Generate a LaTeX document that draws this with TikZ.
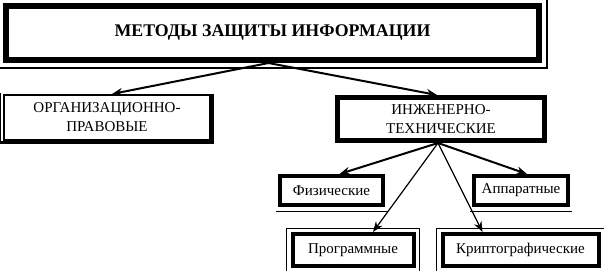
\documentclass[tikz,border=0pt]{standalone}
\usepackage{fontspec}
\setmainfont{Liberation Serif}
\usetikzlibrary{arrows.meta}

\begin{document}
\begin{tikzpicture}[x=1pt, y=-1pt, >={Stealth[length=10.5pt,width=8pt]},
    every node/.style={font=\fontsize{15}{19}\selectfont, align=center, inner sep=0pt},
    dvoinaya/.style 2 args={draw, line width=#1, append after command={\pgfextra{
        \draw[line width=#2] ([shift={(-#1/2-1.2pt-#2/2,-#1/2-1.2pt-#2/2)}]\tikzlastnode.south west)
          rectangle ([shift={(#1/2+1.2pt+#2/2,#1/2+1.2pt+#2/2)}]\tikzlastnode.north east);}}},
    tolstaya/.style={draw, line width=#1},
    snizu/.style={draw, line width=4pt, append after command={\pgfextra{
        \draw[line width=1pt] ([shift={(-2pt,-4.5pt)}]\tikzlastnode.south west)
          -- ([shift={(2pt,-4.5pt)}]\tikzlastnode.south east);}}},
    obyom/.style={draw, line width=2pt, append after command={\pgfextra{
        \fill (\tikzlastnode.north east) rectangle ([shift={(3pt,-3pt)}]\tikzlastnode.south east);
        \fill ([xshift=-3pt]\tikzlastnode.south west) rectangle ([shift={(3pt,-3pt)}]\tikzlastnode.south east);
        \draw[line width=1pt] ([shift={(-2.5pt,1pt)}]\tikzlastnode.north west)
          -- ([shift={(-2.5pt,-3pt)}]\tikzlastnode.south west);}}}]
    \useasboundingbox (0,0) rectangle (604,270);
    \node[dvoinaya={6pt}{2pt}, minimum width=533pt, minimum height=54pt,
        font=\fontsize{17.8}{20}\selectfont\bfseries] (metody) at (272.5,33) {МЕТОДЫ ЗАЩИТЫ ИНФОРМАЦИИ};
    \node[obyom, minimum width=206pt, minimum height=45pt] (org) at (107,117.5) {ОРГАНИЗАЦИОННО-\\ПРАВОВЫЕ};
    \node[tolstaya=5pt, minimum width=207pt, minimum height=43pt] (inzh) at (441,119) {ИНЖЕНЕРНО-\\ТЕХНИЧЕСКИЕ};
    \node[snizu, minimum width=103pt, minimum height=29pt] (fiz) at (331.5,190.5) {Физические};
    \node[snizu, minimum width=94pt, minimum height=29pt] (app) at (521,190.5) {Аппаратные};
    \node[dvoinaya={4pt}{1pt}, minimum width=121pt, minimum height=31.5pt] (prog) at (353,249.75) {Программные};
    \node[dvoinaya={4pt}{1pt}, minimum width=156pt, minimum height=31.5pt] (krip) at (520.5,249.75) {Криптографические};
    \draw[->, line width=2pt] ([xshift=-4pt]metody.south) -- ([xshift=5pt]org.north);
    \draw[->, line width=2pt] ([xshift=-4pt]metody.south) -- ([xshift=-4pt]inzh.north);
    \draw[->, line width=2pt] ([xshift=-3pt]inzh.south) -- ([xshift=8pt]fiz.north);
    \draw[->, line width=1.2pt] ([xshift=-3pt]inzh.south) -- ([xshift=20pt]prog.north);
    \draw[->, line width=1.2pt] ([xshift=-3pt]inzh.south) -- ([xshift=-38pt]krip.north);
    \draw[->, line width=2pt] ([xshift=-3pt]inzh.south) -- ([xshift=6pt]app.north);
\end{tikzpicture}
\end{document}
